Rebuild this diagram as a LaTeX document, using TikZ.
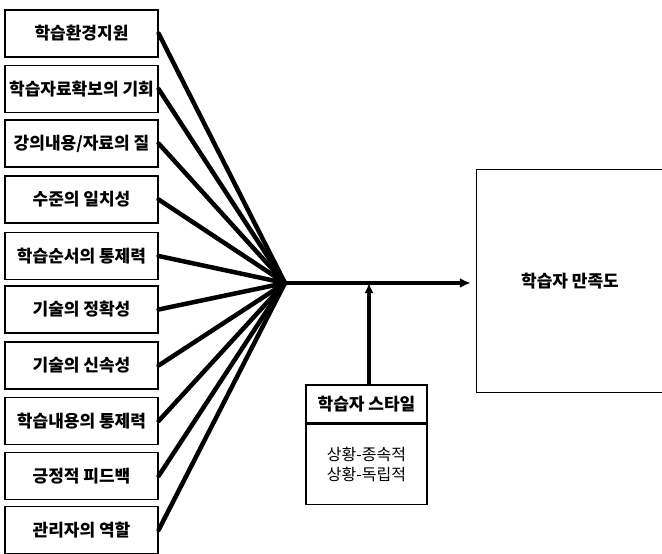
\documentclass[tikz,border=0pt]{standalone}
\usepackage{fontspec}
\setmainfont{Noto Sans CJK KR}
\usetikzlibrary{arrows.meta}
\begin{document}
\begin{tikzpicture}[x=1pt,y=-1pt,
  factor/.style={draw,line width=1.2pt,minimum width=153pt,minimum height=47pt,inner sep=0pt,font=\fontsize{17}{19}\selectfont\bfseries},
  fan/.style={line width=4.5pt,line cap=round},
  mainarrow/.style={line width=3.5pt,-{Latex[length=11pt,width=10pt]}},
  styleline/.style={line width=3.2pt,-{Latex[length=10pt,width=9pt]}},
  boxline/.style={line width=1.2pt}]
\useasboundingbox (0,0) rectangle (662,554);
\node[factor] (b1) at (81.5,33.5) {학습환경지원};
\node[factor] (b2) at (81.5,89) {학습자료확보의 기회};
\node[factor] (b3) at (81.5,143.5) {강의내용/자료의 질};
\node[factor] (b4) at (81.5,199.5) {수준의 일치성};
\node[factor] (b5) at (81.5,256) {학습순서의 통제력};
\node[factor] (b6) at (81.5,309.5) {기술의 정확성};
\node[factor] (b7) at (81.5,365.5) {기술의 신속성};
\node[factor] (b8) at (81.5,421) {학습내용의 통제력};
\node[factor] (b9) at (81.5,476) {긍정적 피드백};
\node[factor] (b10) at (81.5,530) {관리자의 역할};
\coordinate (conv) at (285,283);
\foreach \i in {1,...,10} \draw[fan] (b\i.east) -- (conv);
\node[minimum width=186pt,minimum height=222pt,inner sep=0pt,font=\fontsize{17}{19}\selectfont\bfseries] (sat) at (570,281) {학습자 만족도};
\draw[boxline] (sat.north east) -- (sat.north west) -- (sat.south west) -- (sat.south east);
\draw[mainarrow] (conv) -- ([xshift=-6pt]sat.west |- conv);
\node[draw,line width=1.2pt,minimum width=121pt,minimum height=38pt,inner sep=0pt,font=\fontsize{17}{19}\selectfont\bfseries] (st) at (366.5,404) {학습자 스타일};
\node[draw,line width=1.2pt,minimum width=121pt,minimum height=80pt,inner sep=0pt,anchor=north,align=center,font=\fontsize{16}{20}\selectfont] (sb) at (st.south) {상황-종속적\\상황-독립적};
\draw[styleline] ([xshift=2.5pt]st.north) -- ([xshift=2.5pt]st.north |- conv);
\end{tikzpicture}
\end{document}
